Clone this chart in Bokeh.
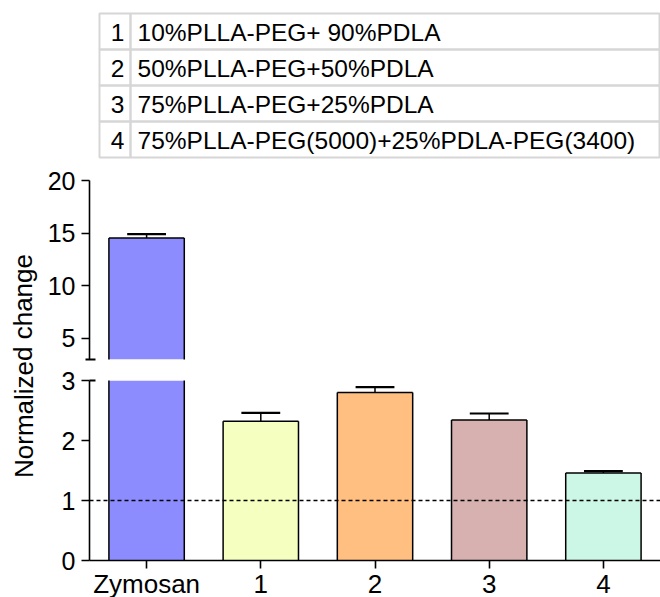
from bokeh.plotting import figure
from bokeh.layouts import column, row
from bokeh.models import Range1d, FixedTicker, Span
from bokeh.core.properties import value
from bokeh.embed import file_html
from bokeh.resources import INLINE

# ---- data -------------------------------------------------------------
categories = ["Zymosan", "1", "2", "3", "4"]
means = [14.55, 2.32, 2.80, 2.34, 1.46]
errors = [0.35, 0.14, 0.09, 0.11, 0.03]
colors = ["#8C8CFF", "#F4FFC0", "#FFBF80", "#D7B0B0", "#CCF6E5"]
formulations = [
    "10%PLLA-PEG+ 90%PDLA",
    "50%PLLA-PEG+50%PDLA",
    "75%PLLA-PEG+25%PDLA",
    "75%PLLA-PEG(5000)+25%PDLA-PEG(3400)",
]
upper_ticks = [5, 10, 15, 20]
lower_ticks = [0, 1, 2, 3]
break_at = 3
upper_top = 20
baseline = 1

FONT = "Liberation Sans"
xs = list(range(len(categories)))
tops = [m + e for m, e in zip(means, errors)]
cap_half = 0.17
bar_half = 0.33

# ---- legend table ----------------------------------------------------
table = figure(width=660, height=165, x_range=Range1d(0, 660), y_range=Range1d(165, 0),
               x_axis_location=None, y_axis_location=None, toolbar_location=None,
               output_backend="svg", min_border=0)
table.outline_line_color = None
table.grid.visible = False
row_h = 36.0
row_top = 13.0
tops_t = [row_top + i * row_h for i in range(len(formulations))]
bots_t = [t + row_h for t in tops_t]
mids_t = [t + row_h / 2 + 1 for t in tops_t]
table.quad(left=[99] * len(formulations), right=[130] * len(formulations),
           top=tops_t, bottom=bots_t, fill_color=None, line_color="#d6d6d6", line_width=2)
table.quad(left=[130] * len(formulations), right=[659] * len(formulations),
           top=tops_t, bottom=bots_t, fill_color=None, line_color="#d6d6d6", line_width=2)
table.text(x=[124] * len(formulations), y=mids_t, text=categories[1:],
           text_font=value(FONT), text_font_size="24.5px", text_align="right",
           text_baseline="middle", text_color="black")
table.text(x=[137] * len(formulations), y=mids_t, text=formulations,
           text_font=value(FONT), text_font_size="24.5px", text_align="left",
           text_baseline="middle", text_color="black")

# ---- y axis title ----------------------------------------------------
ylab = figure(width=40, height=432, x_range=Range1d(0, 40), y_range=Range1d(597, 165),
              x_axis_location=None, y_axis_location=None, toolbar_location=None,
              output_backend="svg", min_border=0)
ylab.outline_line_color = None
ylab.grid.visible = False
ylab.text(x=[23], y=[365.5], text=["Normalized change"], angle=1.5708,
          text_font=value(FONT), text_font_size="26px", text_align="center",
          text_baseline="middle", text_color="black")


def style_y(p, ticks, minor, tin, tout):
    ax = p.yaxis[0]
    ax.ticker = FixedTicker(ticks=ticks, minor_ticks=minor)
    ax.axis_line_color = "black"
    ax.axis_line_width = 1.6
    ax.major_tick_line_color = "black"
    ax.major_tick_line_width = 1.6
    ax.major_tick_out = 8
    ax.major_tick_in = 0
    ax.minor_tick_line_color = "black"
    ax.minor_tick_line_width = 2
    ax.minor_tick_in = tin
    ax.minor_tick_out = tout
    ax.major_label_text_font = FONT
    ax.major_label_text_font_size = "25px"
    ax.major_label_text_color = "black"
    ax.major_label_standoff = 6


def draw_bars(p, idx):
    bx = [xs[i] for i in idx]
    bm = [means[i] for i in idx]
    bt = [tops[i] for i in idx]
    bc = [colors[i] for i in idx]
    zeros = [0] * len(bx)
    # filled body; edges drawn separately so a clipped end shows no rule
    p.vbar(x=bx, top=bm, bottom=0, width=2 * bar_half, fill_color=bc, line_color=None)
    left = [x - bar_half for x in bx]
    right = [x + bar_half for x in bx]
    p.segment(x0=left, y0=zeros, x1=left, y1=bm, line_color="black", line_width=1.5)
    p.segment(x0=right, y0=zeros, x1=right, y1=bm, line_color="black", line_width=1.5)
    p.segment(x0=left, y0=bm, x1=right, y1=bm, line_color="black", line_width=1.5)
    # upper error bars
    p.segment(x0=bx, y0=bm, x1=bx, y1=bt, line_color="black", line_width=1.5)
    p.segment(x0=[x - cap_half for x in bx], y0=bt, x1=[x + cap_half for x in bx],
              y1=bt, line_color="black", line_width=2.2)


# ---- upper panel (break_at .. 20) ----------------------------------------
upper = figure(frame_width=571, frame_height=179,
               x_range=Range1d(-0.5, len(categories) - 0.5),
               y_range=Range1d(break_at, upper_top),
               toolbar_location=None, output_backend="svg",
               min_border_left=49, min_border_right=0, min_border_top=15, min_border_bottom=4)
upper.xaxis.visible = False
upper.grid.visible = False
upper.outline_line_color = None
style_y(upper, upper_ticks, [break_at], 6, 4)
draw_bars(upper, [i for i in xs if means[i] > break_at])

# ---- lower panel (0 .. break_at) -----------------------------------------
lower = figure(frame_width=571, frame_height=180,
               x_range=Range1d(-0.5, len(categories) - 0.5),
               y_range=Range1d(0, break_at),
               toolbar_location=None, output_backend="svg",
               min_border_left=49, min_border_right=0, min_border_top=17, min_border_bottom=0)
lower.grid.visible = False
lower.outline_line_color = None
style_y(lower, lower_ticks, [break_at], 6, 0)
draw_bars(lower, xs)
lower.add_layout(Span(location=baseline, dimension="width", line_color="black",
                      line_width=1.3, line_dash="4 3"))

xa = lower.xaxis[0]
xa.ticker = FixedTicker(ticks=xs, minor_ticks=[])
xa.major_label_overrides = {i: c for i, c in zip(xs, categories)}
xa.axis_line_color = "black"
xa.axis_line_width = 1.6
xa.major_tick_line_color = "black"
xa.major_tick_line_width = 1.6
xa.major_tick_out = 8
xa.major_tick_in = 0
xa.major_label_text_font = FONT
xa.major_label_text_font_size = "26px"
xa.major_label_text_color = "black"
xa.major_label_standoff = 0

layout = column(table, row(ylab, column(upper, lower)))

open("out.html", "w").write(file_html(layout, INLINE))
